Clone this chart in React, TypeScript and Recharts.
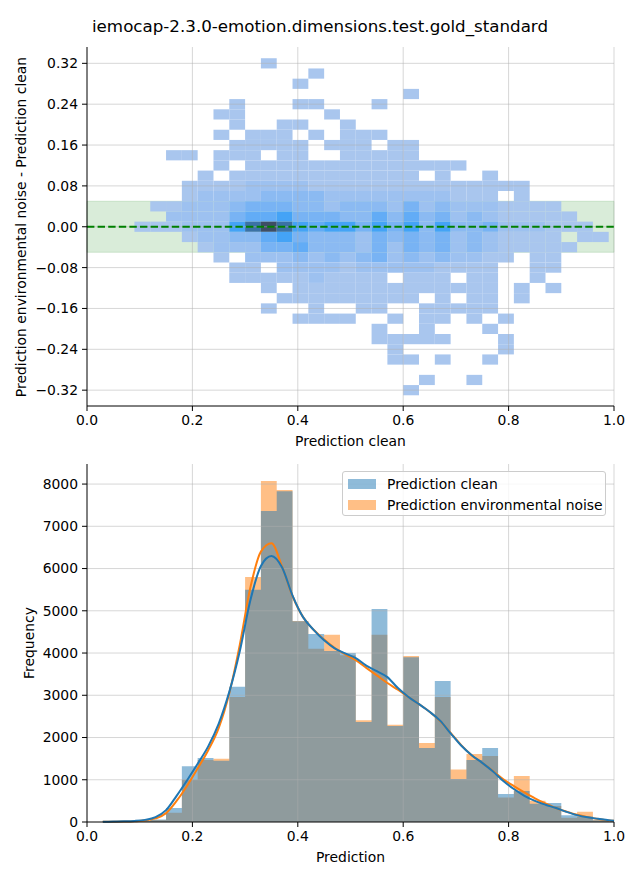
import {
  ComposedChart, ScatterChart, Scatter, Area, Line, XAxis, YAxis, ReferenceArea, ReferenceLine,
} from 'recharts'

const FONT = '"DejaVu Sans", Verdana, sans-serif'

// shared bin edges (prediction axis)
const binEdges = [
  0.03, 0.06, 0.09, 0.12, 0.15, 0.18, 0.21, 0.24, 0.27, 0.30, 0.33, 0.36, 0.39, 0.42, 0.45, 0.48,
  0.51, 0.54, 0.57, 0.60, 0.63, 0.66, 0.69, 0.72, 0.75, 0.78, 0.81, 0.84, 0.87, 0.90, 0.93, 0.96, 0.99,
]
const xTicks = [0, 0.2, 0.4, 0.6, 0.8, 1.0]
const diffTicks = [0.32, 0.24, 0.16, 0.08, 0, -0.08, -0.16, -0.24, -0.32]
const freqTicks = [0, 1000, 2000, 3000, 4000, 5000, 6000, 7000, 8000]

// 2d histogram: rows from diff = 0.32 down to -0.32, one char per prediction bin ('.' = empty, digit = density level)
const diffBinCenters = [
  0.32, 0.30, 0.28, 0.26, 0.24, 0.22, 0.20, 0.18, 0.16, 0.14, 0.12, 0.10, 0.08, 0.06, 0.04, 0.02, 0,
  -0.02, -0.04, -0.06, -0.08, -0.10, -0.12, -0.14, -0.16, -0.18, -0.20, -0.22, -0.24, -0.26, -0.28, -0.30, -0.32,
]
const diffBinHeight = 0.02
const heatRows = [
  '........ ..1..... ........ ........',
  '........ .....1.. ........ ........',
  '........ ....1... ........ ........',
  '........ ........ ...1.... ........',
  '........ 1...11.. .1...... ........',
  '.......1 1.....1. ........ ........',
  '........ 1..11..1 ........ ........',
  '.......1 .111.1.1 11...... ........',
  '........ 11111.11 1.11.... ........',
  '....11.1 11.11..1 1111.... ........',
  '.......1 .1111111 1111111. ........',
  '......1. 11111111 1111.1.. 1.......',
  '.....111 12222111 11111111 111.....',
  '.....122 22333322 22222211 1.1.....',
  '...11222 34443323 33242322 21111...',
  '....2222 45564443 35353423 211111..',
  '..111222 67876566 46463633 4222111.',
  '.....122 33564333 24343423 21111.11',
  '......12 22445333 24243423 211111..',
  '.......1 .2223232 34232322 11.11...',
  '........ 11.22221 22222111 1..11...',
  '........ 11111211 11.111.1 1..1....',
  '........ ..1.1111 11111111 1.1.1...',
  '........ ...11111 1111.1.1 1.1.....',
  '........ ..1..1.. 11..1111 1.......',
  '........ ....1111 ..1.11.1 .1......',
  '........ ........ .1..1... 1.......',
  '........ ........ .11111.. .1......',
  '........ ........ ..1..... .1......',
  '........ ........ ..11.1.. 1.......',
  '........ ........ ........ ........',
  '........ ........ ....1..1 ........',
  '........ ........ ...1.... ........',
]
const heatColors = ['#ffffff', '#a9c6ee', '#9dc1f0', '#8bbaf2', '#78b3f4', '#62acf6', '#44a3f6', '#3b72a6', '#3e4e66']

// histogram counts per bin
const cleanCounts = [
  20, 20, 25, 60, 330, 1320, 1515, 1450, 3200, 5500, 7360, 7830, 4750, 4450, 4050, 4000,
  2370, 5040, 2270, 3900, 1750, 3340, 1020, 1470, 1750, 660, 735, 430, 450, 160, 130, 40,
]
const noiseCounts = [
  15, 15, 20, 50, 220, 1000, 1470, 1500, 2960, 5800, 8070, 7860, 4760, 4100, 4430, 3950,
  2410, 4430, 2300, 3930, 1870, 2960, 1240, 1610, 1560, 580, 1090, 505, 380, 100, 240, 50,
]

// kde curves (scaled to counts)
const kdeX = [
  0.03, 0.05, 0.07, 0.09, 0.11, 0.13, 0.15, 0.17, 0.19, 0.21, 0.23, 0.25, 0.27, 0.29, 0.31, 0.33, 0.35,
  0.37, 0.39, 0.41, 0.43, 0.45, 0.47, 0.49, 0.51, 0.53, 0.55, 0.57, 0.59, 0.61, 0.63, 0.65, 0.67, 0.69,
  0.71, 0.73, 0.75, 0.77, 0.79, 0.81, 0.83, 0.85, 0.87, 0.89, 0.91, 0.93, 0.95, 0.97, 0.99, 1.0,
]
const kdeClean = [
  5, 10, 15, 25, 50, 115, 280, 620, 990, 1380, 1790, 2330, 3080, 4050, 5250, 6060, 6300,
  6030, 5360, 4850, 4550, 4300, 4110, 3990, 3880, 3700, 3570, 3430, 3170, 2960, 2790, 2610, 2400, 2100,
  1810, 1580, 1400, 1200, 970, 780, 620, 500, 410, 330, 240, 163, 110, 75, 40, 30,
]
const kdeNoise = [
  3, 6, 10, 18, 35, 85, 210, 500, 860, 1270, 1700, 2230, 3050, 4200, 5550, 6400, 6600,
  6050, 5350, 4850, 4550, 4320, 4120, 3970, 3830, 3650, 3470, 3290, 3130, 2960, 2790, 2610, 2390, 2110,
  1820, 1580, 1400, 1210, 1010, 850, 700, 560, 440, 330, 245, 170, 115, 72, 38, 28,
]

const tickStyle = { fill: '#000', fontSize: 13.9, fontFamily: FONT }
const axisStyle = { stroke: '#000', strokeWidth: 1 }
const GRID = { stroke: '#b0b0b0', strokeOpacity: 0.5, strokeWidth: 1 }

const fmtDiff = (v: number) => (v < 0 ? '\u2212' : '') + Math.abs(v).toFixed(2)

function steps(counts: number[]) {
  const pts = counts.map((v, i) => ({ x: binEdges[i], v }))
  pts.push({ x: binEdges[counts.length], v: counts[counts.length - 1] })
  return pts
}

function DiffHeatmap() {
  const cells: { x1: number; x2: number; y1: number; y2: number; cx: number; cy: number; lvl: number }[] = []
  heatRows.forEach((row, i) => {
    const s = row.replace(/ /g, '')
    for (let c = 0; c < s.length; c++) {
      const lvl = Number(s[c])
      if (!lvl) continue
      const y = diffBinCenters[i]
      cells.push({
        x1: binEdges[c], x2: binEdges[c + 1],
        y1: y - diffBinHeight / 2, y2: y + diffBinHeight / 2,
        cx: (binEdges[c] + binEdges[c + 1]) / 2, cy: y, lvl,
      })
    }
  })

  return (
    <ScatterChart width={640} height={450} margin={{ top: 47, right: 26, bottom: 14, left: 27 }}>
      <XAxis
        type="number" dataKey="cx" domain={[0, 1]} ticks={xTicks} tickFormatter={(v: number) => v.toFixed(1)}
        tick={tickStyle} axisLine={axisStyle} tickLine={axisStyle} tickSize={5} tickMargin={4} height={30}
      />
      <YAxis
        type="number" dataKey="cy" domain={[-0.351, 0.352]} ticks={diffTicks} tickFormatter={fmtDiff}
        tick={tickStyle} axisLine={axisStyle} tickLine={axisStyle} tickSize={5} tickMargin={4} width={60}
      />
      <ReferenceArea y1={-0.05} y2={0.05} fill="#008000" fillOpacity={0.15} stroke="#008000" strokeOpacity={0.15} />
      {cells.map((c, i) => (
        <ReferenceArea key={i} x1={c.x1} x2={c.x2} y1={c.y1} y2={c.y2} fill={heatColors[c.lvl]} fillOpacity={1} stroke="none" />
      ))}
      <Scatter data={cells} shape={() => <g />} isAnimationActive={false} />
      {xTicks.filter(t => t > 0).map(t => <ReferenceLine key={'x' + t} x={t} {...GRID} />)}
      {diffTicks.map(t => <ReferenceLine key={'y' + t} y={t} {...GRID} />)}
      <ReferenceLine y={0} stroke="#008000" strokeWidth={2} strokeDasharray="7.4 3.2" />
    </ScatterChart>
  )
}

function PredictionHistogram() {
  const cleanSteps = steps(cleanCounts)
  const noiseSteps = steps(noiseCounts)
  const cleanKde = kdeX.map((x, i) => ({ x, v: kdeClean[i] }))
  const noiseKde = kdeX.map((x, i) => ({ x, v: kdeNoise[i] }))

  return (
    <ComposedChart width={640} height={430} margin={{ top: 14, right: 26, bottom: 28, left: 27 }}>
      <XAxis
        type="number" dataKey="x" domain={[0, 1]} ticks={xTicks} tickFormatter={(v: number) => v.toFixed(1)}
        tick={tickStyle} axisLine={axisStyle} tickLine={axisStyle} tickSize={5} tickMargin={4} height={30}
        allowDuplicatedCategory={false}
      />
      <YAxis
        type="number" domain={[0, 8475]} ticks={freqTicks}
        tick={tickStyle} axisLine={axisStyle} tickLine={axisStyle} tickSize={5} tickMargin={4} width={60}
      />
      <Area data={noiseSteps} dataKey="v" type="stepAfter" fill="#ff7f0e" fillOpacity={0.5} stroke="none" isAnimationActive={false} />
      <Area data={cleanSteps} dataKey="v" type="stepAfter" fill="#1f77b4" fillOpacity={0.5} stroke="none" isAnimationActive={false} />
      {xTicks.filter(t => t > 0).map(t => <ReferenceLine key={'x' + t} x={t} {...GRID} />)}
      {freqTicks.filter(t => t > 0).map(t => <ReferenceLine key={'y' + t} y={t} {...GRID} />)}
      <Line data={noiseKde} dataKey="v" type="monotone" stroke="#ff7f0e" strokeWidth={2} dot={false} isAnimationActive={false} />
      <Line data={cleanKde} dataKey="v" type="monotone" stroke="#1f77b4" strokeWidth={2} dot={false} isAnimationActive={false} />
    </ComposedChart>
  )
}

function LegendBox() {
  const items = [
    { label: 'Prediction clean', color: 'rgba(31,119,180,0.5)' },
    { label: 'Prediction environmental noise', color: 'rgba(255,127,14,0.5)' },
  ]
  return (
    <div style={{
      position: 'absolute', left: 342, top: 471, width: 264, height: 45, boxSizing: 'border-box',
      background: 'rgba(255,255,255,0.8)', border: '1px solid #cccccc', borderRadius: 3,
    }}>
      {items.map((it, i) => (
        <div key={it.label} style={{ position: 'absolute', left: 5, top: 6 + i * 21, height: 12, display: 'flex', alignItems: 'center' }}>
          <div style={{ width: 28, height: 10, background: it.color }} />
          <span style={{ marginLeft: 11, fontSize: 13.9, fontFamily: FONT, color: '#000', whiteSpace: 'nowrap', lineHeight: '12px' }}>
            {it.label}
          </span>
        </div>
      ))}
    </div>
  )
}

export default function App() {
  return (
    <div style={{ position: 'absolute', left: 0, top: 0, width: 640, height: 880, background: '#fff', fontFamily: FONT }}>
      <div style={{ position: 'absolute', left: 0, top: 0 }}>
        <DiffHeatmap />
      </div>
      <div style={{ position: 'absolute', left: 0, top: 450 }}>
        <PredictionHistogram />
      </div>
      <LegendBox />
      <svg width={640} height={880} style={{ position: 'absolute', left: 0, top: 0, pointerEvents: 'none' }}>
        <g fontFamily={FONT} fill="#000">
          <text x={320} y={32} fontSize={16.7} textAnchor="middle">iemocap-2.3.0-emotion.dimensions.test.gold_standard</text>
          <text x={350.5} y={446} fontSize={13.9} textAnchor="middle">Prediction clean</text>
          <text x={26} y={227} fontSize={13.9} textAnchor="middle" transform="rotate(-90 26 227)">
            Prediction environmental noise - Prediction clean
          </text>
          <text x={350.5} y={862} fontSize={13.9} textAnchor="middle">Prediction</text>
          <text x={34} y={643} fontSize={13.9} textAnchor="middle" transform="rotate(-90 34 643)">Frequency</text>
        </g>
      </svg>
    </div>
  )
}
